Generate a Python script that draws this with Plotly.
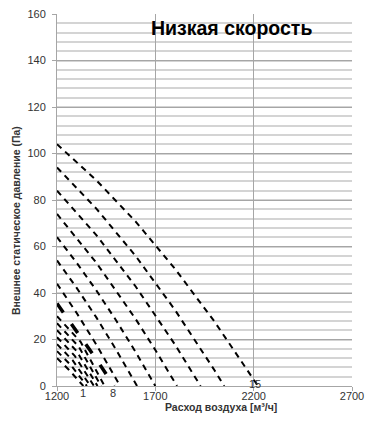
import plotly.graph_objects as go

# ---- data ----
curve_names = ["1", "2", "3", "4", "5", "6", "7", "8", "9", "10", "11", "12", "13", "14", "15"]

curve_x = [
    [1200, 1260, 1334],
    [1200, 1270, 1352],
    [1200, 1280, 1370],
    [1200, 1290, 1388],
    [1200, 1300, 1406],
    [1200, 1310, 1424],
    [1200, 1320, 1442],
    [1200, 1300, 1400, 1490],
    [1200, 1300, 1400, 1521],
    [1200, 1300, 1400, 1500, 1607],
    [1200, 1300, 1400, 1500, 1600, 1700],
    [1200, 1400, 1600, 1700, 1810],
    [1200, 1400, 1600, 1800, 1930],
    [1200, 1400, 1600, 1800, 2000, 2050],
    [1200, 1400, 1600, 1800, 2000, 2222],
]
curve_y = [
    [12, 7, 0],
    [15, 9, 0],
    [18, 11, 0],
    [21, 13, 0],
    [24, 15, 0],
    [27, 17, 0],
    [30, 19, 0],
    [35.5, 23.5, 11.5, 0],
    [44, 31.4, 17.8, 0],
    [54, 42.2, 29.5, 15.7, 0],
    [64, 53.0, 41.1, 28.3, 14.6, 0],
    [74, 53.0, 28.8, 15.5, 0],
    [84, 64.9, 42.8, 17.8, 0],
    [94, 76.3, 55.9, 32.7, 6.9, 0],
    [104, 88.5, 70.7, 50.4, 27.8, 0],
]

label_names = ["1", "8", "15"]
label_x = [1334, 1486, 2207]
label_y = [-3, -3, 0.9]   # in Pa

x_ticks = [1200, 1700, 2200, 2700]
y_ticks = [0, 20, 40, 60, 80, 100, 120, 140, 160]
y_max = 160

title_text = "Низкая скорость"
x_title = "Расход воздуха [м³/ч]"
y_title = "Внешнее статическое давление (Па)"

# ---- figure ----
fig = go.Figure()
for i, name in enumerate(curve_names):
    thick = name == "8"
    fig.add_trace(go.Scatter(
        x=curve_x[i], y=curve_y[i], mode="lines", name=name,
        line=dict(color="black", width=3.5 if thick else 2,
                  dash="11px,14px" if thick else "6px,5px"),
        showlegend=False, hoverinfo="skip",
    ))

font_family = "Liberation Sans, Arial, sans-serif"

for t, xv, yv in zip(label_names, label_x, label_y):
    fig.add_annotation(x=xv, y=yv / y_max, xref="x", yref="paper", text=t, showarrow=False,
                       font=dict(family=font_family, size=11, color="#333333"),
                       xanchor="center", yanchor="middle")

fig.add_annotation(x=0.59, y=0.962, xref="paper", yref="paper", text="<b>" + title_text + "</b>",
                   showarrow=False, font=dict(family=font_family, size=19.5, color="black"),
                   xanchor="center", yanchor="middle")
fig.add_annotation(x=0.556, y=-0.056, xref="paper", yref="paper", text="<b>" + x_title + "</b>",
                   showarrow=False, font=dict(family=font_family, size=10.5, color="#333333"),
                   xanchor="center", yanchor="middle")
fig.add_annotation(x=-0.139, y=0.446, xref="paper", yref="paper", text="<b>" + y_title + "</b>",
                   showarrow=False, textangle=-90,
                   font=dict(family=font_family, size=10.5, color="#333333"),
                   xanchor="center", yanchor="middle")

fig.update_layout(
    width=365, height=421,
    margin=dict(l=57, r=13, t=14, b=35, autoexpand=False),
    paper_bgcolor="white", plot_bgcolor="white",
    font=dict(family=font_family, size=11, color="#333333"),
)
fig.update_xaxes(
    range=[1200, 2700], tickvals=x_ticks, showgrid=True, gridcolor="#a6a6a6", gridwidth=1,
    showline=True, linecolor="#a6a6a6", linewidth=1, ticks="outside", ticklen=4,
    tickcolor="#a6a6a6", zeroline=False, tickfont=dict(size=11, color="#333333"),
    ticklabelstandoff=-4, ticklabeloverflow="allow", automargin=False,
)
fig.update_yaxes(
    range=[0, y_max], tickvals=y_ticks, showgrid=True, gridcolor="#a6a6a6", gridwidth=1,
    showline=True, linecolor="#a6a6a6", linewidth=1, ticks="outside", ticklen=4,
    tickcolor="#a6a6a6", zeroline=False, tickfont=dict(size=11, color="#333333"),
    ticklabelstandoff=4, ticklabeloverflow="allow", automargin=False,
    minor=dict(dtick=4, showgrid=True, gridcolor="#d4d4d4", gridwidth=1.5),
)

fig.write_html(
    "out.html",
    config={"displayModeBar": False},
    post_script="document.body.style.margin='0';document.body.style.overflow='hidden';",
)
